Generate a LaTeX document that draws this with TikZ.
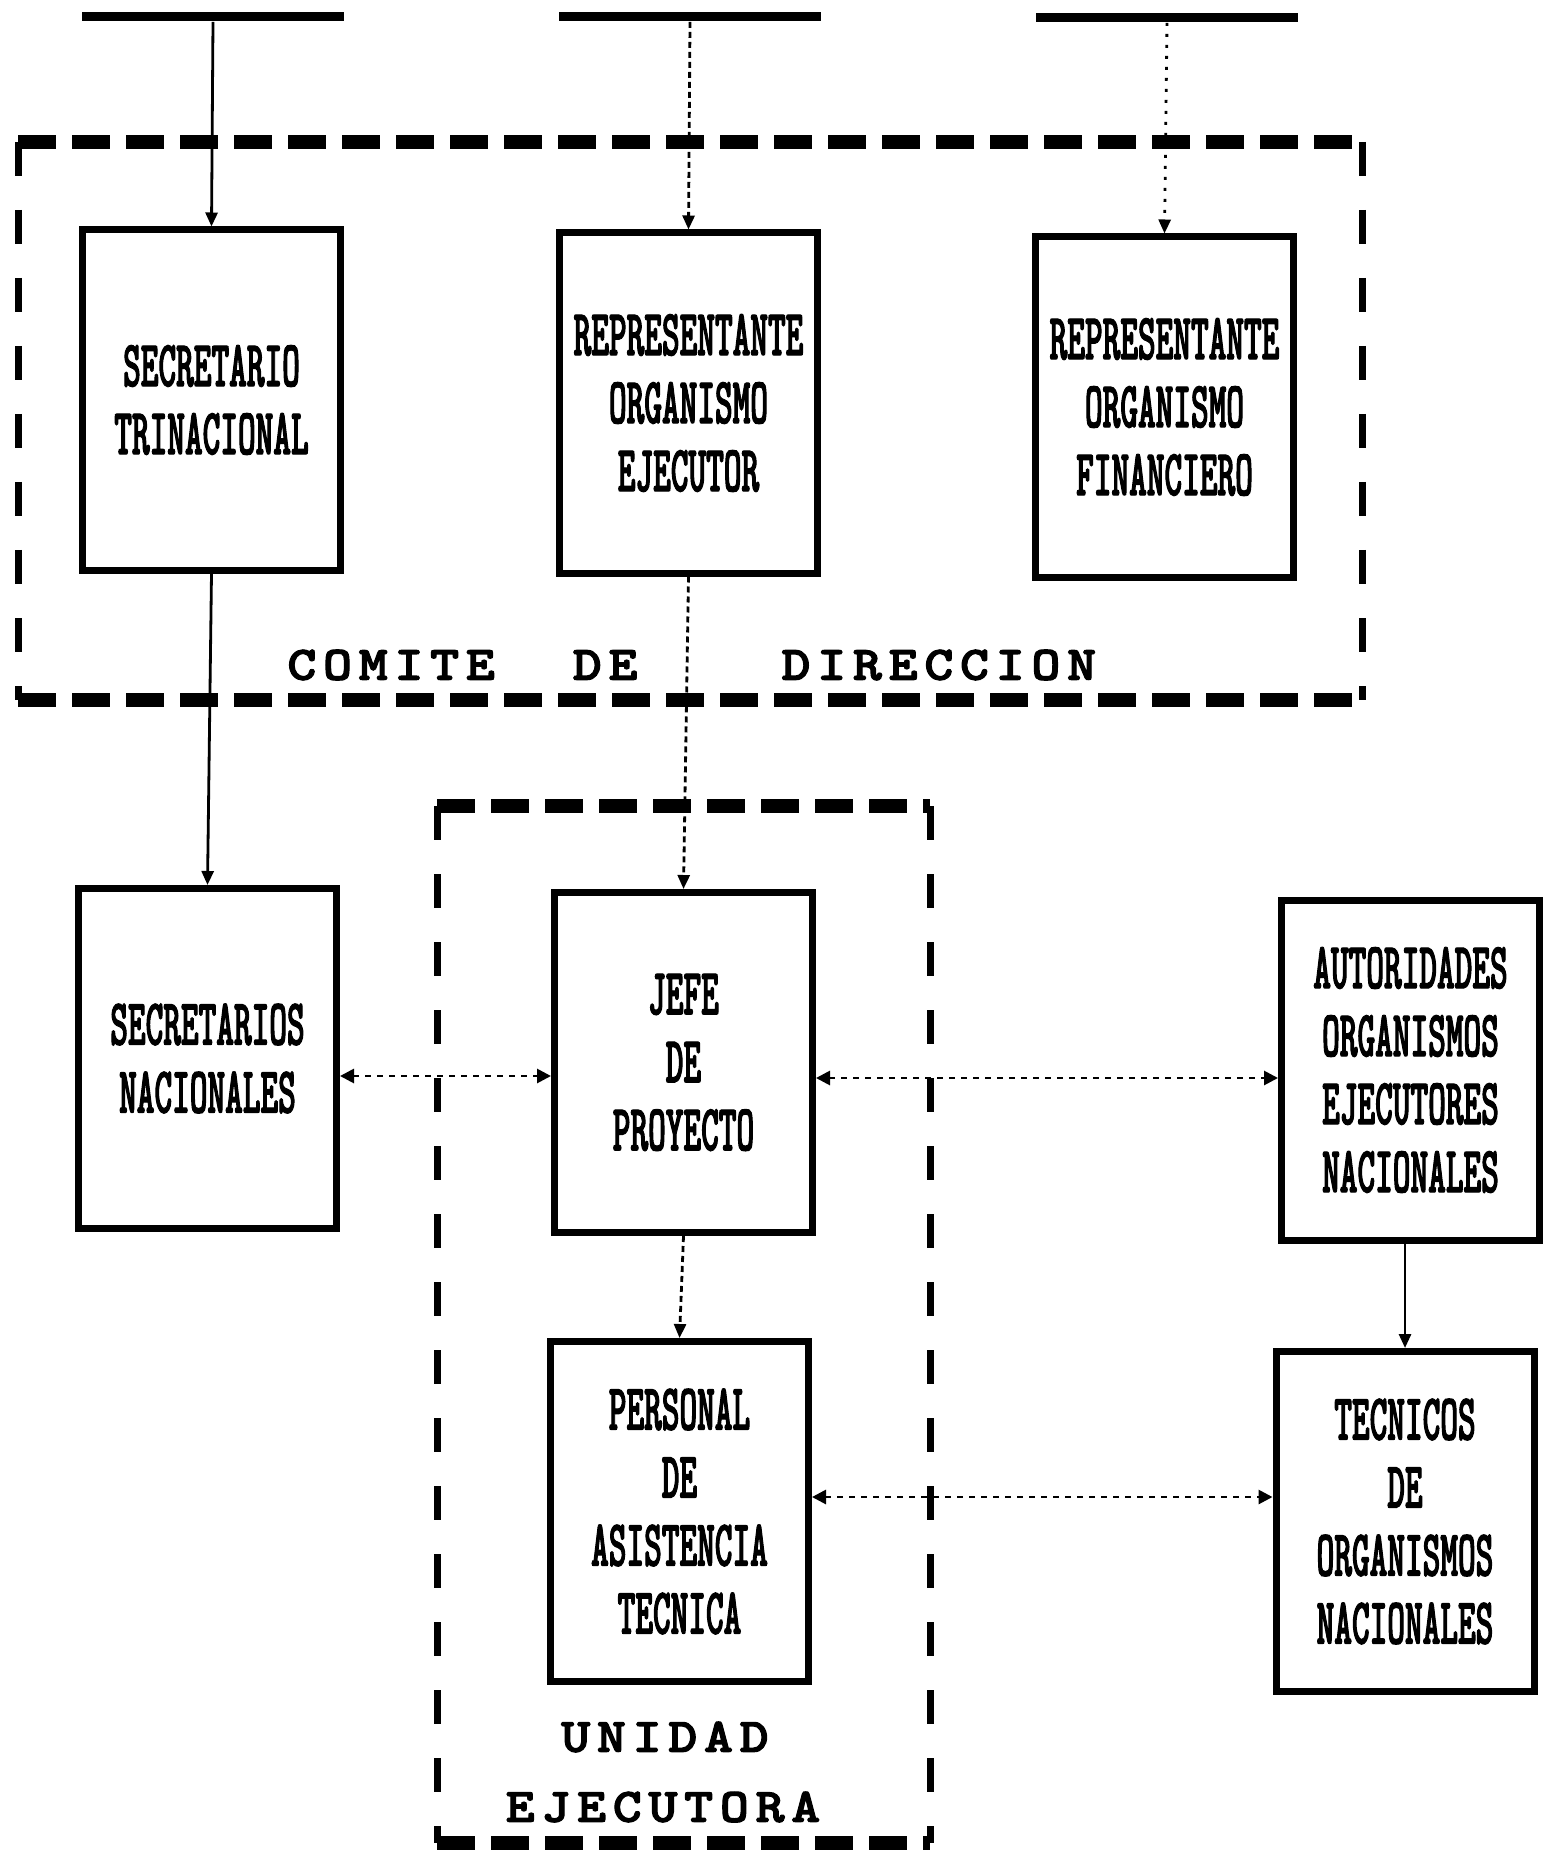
\documentclass[tikz,border=0pt]{standalone}
\usepackage{fontspec}
\usetikzlibrary{arrows.meta}
\newfontfamily\boxfont[FakeStretch=0.51,FakeBold=1.5]{lmmonolt10-bold.otf}
\newfontfamily\labfont[FakeStretch=1.15,LetterSpace=14,FakeBold=2.5]{lmmonolt10-bold.otf}
\tikzset{
  orgbox/.style={draw, line width=3.5pt, minimum width=129pt, minimum height=170pt,
    inner sep=0pt, align=center, font=\boxfont\fontsize{33}{34}\selectfont},
  cutbar/.style={fill=black, inner sep=0pt, minimum width=131pt, minimum height=4.5pt},
  grplabel/.style={inner sep=0pt, font=\labfont\fontsize{24}{28}\selectfont},
  hdash/.style={line width=7pt, dash pattern=on 19pt off 8pt},
  vdash/.style={line width=3.5pt, dash pattern=on 17pt off 17pt},
  conn/.style={line width=1.4pt},
  solidc/.style={conn},
  dashc/.style={conn, dash pattern=on 3pt off 2pt},
  dotc/.style={conn, dash pattern=on 1.5pt off 4pt},
  dotlink/.style={conn, dash pattern=on 3pt off 3pt},
  tip/.style={-{Triangle[length=7pt,width=6pt]}},
  tips/.style={{Triangle[length=7pt,width=7pt]}-{Triangle[length=7pt,width=7pt]}}
}
\begin{document}
\begin{tikzpicture}[x=0.5pt,y=-0.5pt]
\useasboundingbox (0,0) rectangle (1551,1855);
\fill[white] (0,0) rectangle (1551,1855);

% bottom edges of boxes cut off by the page edge
\node[cutbar] (tl) at (213,17) {};
\node[cutbar] (tm) at (690,17) {};
\node[cutbar] (tr) at (1167,18) {};

% comite de direccion frame
\draw[hdash] (18,142) -- (1362,142);
\draw[hdash] (18,700) -- (1362,700);
\draw[vdash] (18,142) -- (18,700);
\draw[vdash] (1362,142) -- (1362,700);

% unidad ejecutora frame
\draw[hdash] (437,806) -- (930,806);
\draw[hdash] (437,1843) -- (930,1843);
\draw[vdash] (437,806) -- (437,1843);
\draw[vdash] (930,806) -- (930,1843);

% boxes
\node[orgbox] (st) at (211.5,400) {SECRETARIO\\TRINACIONAL};
\node[orgbox] (roe) at (688.5,403) {REPRESENTANTE\\ORGANISMO\\EJECUTOR};
\node[orgbox] (rof) at (1164.5,407) {REPRESENTANTE\\ORGANISMO\\FINANCIERO};
\node[orgbox] (sn) at (207.5,1058.5) {SECRETARIOS\\NACIONALES};
\node[orgbox] (jp) at (683.5,1062.5) {JEFE\\DE\\PROYECTO};
\node[orgbox] (aut) at (1410.5,1070) {AUTORIDADES\\ORGANISMOS\\EJECUTORES\\NACIONALES};
\node[orgbox] (pat) at (679.5,1511.5) {PERSONAL\\DE\\ASISTENCIA\\TECNICA};
\node[orgbox] (tec) at (1405,1521.5) {TECNICOS\\DE\\ORGANISMOS\\NACIONALES};

% labels
\node[grplabel, anchor=west] (comite) at (287,665) {COMITE\hspace{39pt}DE\hspace{72pt}DIRECCION};
\node[grplabel] (unidad) at (665,1737) {UNIDAD};
\node[grplabel] (ejecutora) at (663,1807) {EJECUTORA};

% vertical connectors
\draw[solidc,tip] (tl.south) -- (st.north);
\draw[dashc,tip] (tm.south) -- (roe.north);
\draw[dotc,tip] (tr.south) -- (rof.north);
\draw[solidc,tip] (st.south) -- (sn.north);
\draw[dashc,tip] (roe.south) -- (jp.north);
\draw[dashc,tip] (jp.south) -- (pat.north);
\draw[solidc,tip] (tec.north |- aut.south) -- (tec.north);

% horizontal two-way links
\coordinate (ya) at (0,1076);
\coordinate (yb) at (0,1078);
\coordinate (yc) at (0,1497);
\draw[dotlink,tips] (sn.east |- ya) -- (jp.west |- ya);
\draw[dotlink,tips] (jp.east |- yb) -- (aut.west |- yb);
\draw[dotlink,tips] (pat.east |- yc) -- (tec.west |- yc);
\end{tikzpicture}
\end{document}
